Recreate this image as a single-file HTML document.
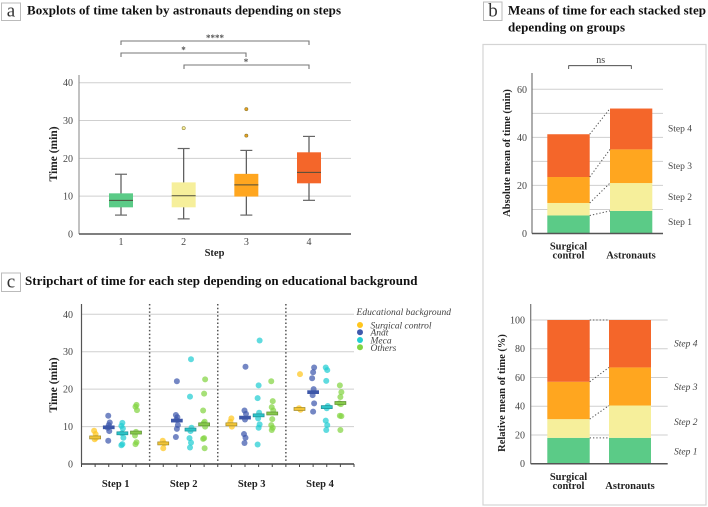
<!DOCTYPE html>
<html lang="en">
<head>
<meta charset="utf-8">
<title>Astronaut step timing figure</title>
<style>
html,body{margin:0;padding:0;background:#fff;}
svg{display:block;font-family:"Liberation Serif",serif;}
.title{font-weight:bold;font-size:13px;fill:#111;}
.tick{font-size:10px;fill:#444;}
.axt{font-weight:bold;font-size:11.5px;fill:#222;}
.axs{font-weight:bold;font-size:10.5px;fill:#222;}
.cat{font-weight:bold;font-size:10.5px;fill:#222;}
.lab{font-size:9.5px;fill:#444;}
.ital{font-style:italic;font-size:9.5px;fill:#444;}
.plab{font-size:19px;fill:#333;}
</style>
</head>
<body>
<svg id="fig" xmlns="http://www.w3.org/2000/svg" width="708" height="507" viewBox="0 0 708 507">
<rect x="0" y="0" width="708" height="507" fill="#fff"/>

<g>
<rect x="1.5" y="3" width="19" height="17.5" fill="#fff" stroke="#bbb"/>
<text class="plab" x="11" y="16.5" text-anchor="middle">a</text>
</g>
<text class="title" x="27" y="14.5" textLength="314" lengthAdjust="spacing">Boxplots of time taken by astronauts depending on steps</text>

<g>
<rect x="483.5" y="2" width="18.5" height="18.5" fill="#fff" stroke="#bbb"/>
<text class="plab" x="493" y="16.5" text-anchor="middle">b</text>
</g>
<text class="title" x="508" y="14.5" textLength="198" lengthAdjust="spacing">Means of time for each stacked step</text>
<text class="title" x="508" y="31.5" textLength="117" lengthAdjust="spacing">depending on groups</text>
<rect x="483" y="44.5" width="223" height="460.5" fill="#fff" stroke="#d4d4d4" stroke-width="1.2"/>

<g>
<rect x="1.5" y="273" width="19" height="18.5" fill="#fff" stroke="#bbb"/>
<text class="plab" x="11" y="287.5" text-anchor="middle">c</text>
</g>
<text class="title" x="25" y="285" textLength="392.5" lengthAdjust="spacing">Stripchart of time for each step depending on educational background</text>

<!-- significance brackets a -->
<g fill="none" stroke="#777" stroke-width="1.1">
<path d="M121 45V41H309V45"/>
<path d="M121 57V53H246V57"/>
<path d="M184 69V65H309V69"/>
</g>
<text x="215" y="41" text-anchor="middle" font-size="9" font-weight="bold" fill="#555">****</text>
<text x="183.5" y="53" text-anchor="middle" font-size="9" font-weight="bold" fill="#555">*</text>
<text x="246" y="65" text-anchor="middle" font-size="9" font-weight="bold" fill="#555">*</text>

<text class="axt" transform="translate(57 154) rotate(-90)" text-anchor="middle">Time (min)</text>
<text class="axs" x="214.5" y="256" text-anchor="middle">Step</text>

<text class="axt" transform="translate(57 385) rotate(-90)" text-anchor="middle">Time (min)</text>
<text class="cat" x="115.7" y="487" text-anchor="middle">Step 1</text>
<text class="cat" x="183.7" y="487" text-anchor="middle">Step 2</text>
<text class="cat" x="251.7" y="487" text-anchor="middle">Step 3</text>
<text class="cat" x="320" y="487" text-anchor="middle">Step 4</text>

<text class="ital" x="356.5" y="315" textLength="94.5" lengthAdjust="spacing">Educational background</text>
<g><circle cx="360" cy="325" r="3" fill="#ffc61e"/><text class="ital" x="370.5" y="328.5" textLength="61" lengthAdjust="spacing">Surgical control</text></g>
<g><circle cx="360" cy="332.3" r="3" fill="#3f59ad"/><text class="ital" x="370.5" y="335.5">Anat</text></g>
<g><circle cx="360" cy="340" r="3" fill="#22cdd2"/><text class="ital" x="370.5" y="343.5">Meca</text></g>
<g><circle cx="360" cy="347.3" r="3" fill="#83d443"/><text class="ital" x="370.5" y="351">Others</text></g>

<g fill="none" stroke="#333" stroke-width="0.8"><path d="M568.7 69V65.7H631.3V69"/></g>
<text x="600.7" y="63" text-anchor="middle" font-size="10" fill="#444">ns</text>
<text class="axs" transform="translate(510 153) rotate(-90)" text-anchor="middle">Absolute mean of time (min)</text>
<text class="axs" transform="translate(505 393) rotate(-90)" text-anchor="middle">Relative mean of time (%)</text>

<text class="cat" x="568.5" y="249.5" text-anchor="middle">Surgical</text>
<text class="cat" x="568.5" y="258.5" text-anchor="middle">control</text>
<text class="cat" x="631" y="258.5" text-anchor="middle">Astronauts</text>
<text class="cat" x="568.5" y="480" text-anchor="middle">Surgical</text>
<text class="cat" x="568.5" y="489" text-anchor="middle">control</text>
<text class="cat" x="630" y="489" text-anchor="middle">Astronauts</text>

<text class="lab" x="668" y="131.5">Step 4</text>
<text class="lab" x="668" y="169">Step 3</text>
<text class="lab" x="668" y="200">Step 2</text>
<text class="lab" x="668" y="225">Step 1</text>
<text class="ital" x="674" y="346.5">Step 4</text>
<text class="ital" x="674" y="390">Step 3</text>
<text class="ital" x="674" y="425">Step 2</text>
<text class="ital" x="674" y="454.5">Step 1</text>
</svg>

<script>
/* Panel a: boxplots */
const boxCategories = ['1', '2', '3', '4'];
const boxWhiskerLow = [5, 4, 5, 8.9];
const boxQ1 = [7.05, 7.05, 9.9, 13.4];
const boxMedian = [8.9, 10.1, 13, 16.3];
const boxQ3 = [10.75, 13.65, 15.9, 21.6];
const boxWhiskerHigh = [15.8, 22.6, 22.1, 25.8];
const boxOutliers = [[], [28], [26, 33], []];
const timeTicks = [0, 10, 20, 30, 40];

/* Panel c: stripchart, values by step then by group */
const stripSteps = ['Step 1', 'Step 2', 'Step 3', 'Step 4'];
const stripGroups = ['surgical-control', 'anat', 'meca', 'others'];
const stripStep1 = [
  [8.9, 8.0, 6.6, 7.0],
  [12.9, 11.1, 10.4, 9.7, 8.8, 6.2],
  [11, 10.2, 9.5, 8.2, 7, 5.3, 5],
  [15.8, 15.3, 14.4, 8.6, 7.6, 5.8, 5.3]
];
const stripStep2 = [
  [6.2, 5.5, 4.2],
  [22.1, 13.1, 12.5, 11.8, 10.4, 9.4, 7.2],
  [28, 18, 9.7, 8.8, 6.9, 5.7, 4.4],
  [22.6, 18.8, 14.3, 11.3, 10.9, 10, 6.9, 6.7, 4.2]
];
const stripStep3 = [
  [12.2, 11.3, 10],
  [26, 14.3, 13.4, 11.9, 8, 7, 5.6],
  [33, 21, 17.6, 13.7, 12.2, 10.6, 9.7, 5.2],
  [22.1, 16.8, 15.2, 14.3, 12, 10.4, 9.7, 9.1]
];
const stripStep4 = [
  [24, 14.9, 14.5],
  [25.8, 24.5, 22.9, 20, 18.4, 16.2, 14],
  [25.8, 25.1, 22.2, 15.5, 14.9, 11.6, 10.4, 9.1],
  [21, 19.2, 17.9, 16.2, 16, 12.9, 12.8, 9.1]
];
const stripValues = [stripStep1, stripStep2, stripStep3, stripStep4];
const stripMeans = [
  [7.1, 9.8, 8.2, 8.4],
  [5.5, 11.6, 9.2, 10.6],
  [10.6, 12.4, 13, 13.5],
  [14.7, 19.2, 15.2, 16.3]
];

/* Panel b: stacked means (Step 1 to Step 4) */
const absoluteSurgical = [7.5, 5.2, 10.8, 17.8];
const absoluteAstronauts = [9.4, 11.6, 14, 17];
const absoluteTicks = [0, 10, 20, 30, 40, 50, 60];
const absoluteLabels = [0, 20, 40, 60];
const relativeSurgical = [18, 13, 26, 43];
const relativeAstronauts = [18, 22.5, 26.5, 33];
const relativeTicks = [0, 20, 40, 60, 80, 100];

const stepColors = ['#5bcb87', '#f6ef9b', '#ffa61f', '#f4662a'];
const outlierColors = ['#5bcb87', '#f6ef9b', '#e8a020', '#f4662a'];
const groupColors = ['#ffc61e', '#3f59ad', '#22cdd2', '#83d443'];
const meanFill = ['#f2c436', '#3d57a8', '#2cc4c8', '#86c94a'];
const meanStroke = ['#a08a2a', '#3d57a8', '#1f8f96', '#5f8f35'];

const fig = document.getElementById('fig');
const NS = 'http://www.w3.org/2000/svg';
function mk(tag, attrs, parent) {
  const el = document.createElementNS(NS, tag);
  for (const k in attrs) el.setAttribute(k, attrs[k]);
  (parent || fig).appendChild(el);
  return el;
}
function scale(d0, d1, r0, r1) {
  return function (v) { return r0 + (v - d0) * (r1 - r0) / (d1 - d0); };
}

function drawYAxis(prefix, y, ticks, labels, x0, x1, top, labelX, axisColor) {
  ticks.forEach(function (t) {
    if (t === 0) return;
    const grid = mk('line', {x1: x0, x2: x1, y1: y(t), y2: y(t), stroke: '#cfcfcf', 'stroke-width': 1});
    
    
  });
  labels.forEach(function (t) {
    const lab = mk('text', {x: labelX, y: y(t) + 3.5, 'text-anchor': 'end', 'class': 'tick'});
    lab.textContent = t;
    
    
  });
  const ya = mk('line', {x1: x0, x2: x0, y1: top, y2: y(0), stroke: axisColor, 'stroke-width': 1.2});
  
  
}
function drawXBase(prefix, y, x0, x1, color) {
  const xa = mk('line', {x1: x0, x2: x1, y1: y(0), y2: y(0), stroke: color, 'stroke-width': 1.5});
  
  
}

/* ---- Panel a ---- */
(function () {
  const y = scale(0, 40, 234, 82.7);
  const x = scale(1, 4, 121, 309);
  drawYAxis('boxplot', y, timeTicks, timeTicks, 79, 351, 75, 73, '#999');
  boxCategories.forEach(function (c, i) {
    const cx = x(i + 1);
    const stem = mk('line', {x1: cx, x2: cx, y1: y(boxWhiskerLow[i]), y2: y(boxWhiskerHigh[i]), stroke: '#555', 'stroke-width': 1.2});
    
    
    [boxWhiskerLow[i], boxWhiskerHigh[i]].forEach(function (v) {
      const cap = mk('line', {x1: cx - 6, x2: cx + 6, y1: y(v), y2: y(v), stroke: '#666', 'stroke-width': 1.2});
      
      
    });
    const box = mk('rect', {x: cx - 12, width: 24, y: y(boxQ3[i]), height: y(boxQ1[i]) - y(boxQ3[i]), fill: stepColors[i]});
    
    
    const med = mk('line', {x1: cx - 12, x2: cx + 12, y1: y(boxMedian[i]), y2: y(boxMedian[i]), stroke: '#4d4d3a', 'stroke-width': 1});
    
    
    boxOutliers[i].forEach(function (v) {
      const o = mk('circle', {cx: cx, cy: y(v), r: 1.6, fill: outlierColors[i], stroke: '#8a7a30', 'stroke-width': 0.6});
      
      
    });
    const lab = mk('text', {x: cx, y: 245, 'text-anchor': 'middle', 'class': 'tick'});
    lab.textContent = c;
    
    
  });
  drawXBase('boxplot', y, 79, 351, '#555');
})();

/* ---- Panel c ---- */
(function () {
  const y = scale(0, 40, 464, 314.3);
  const stepX = scale(0, 4, 81.5, 354);
  const unit = (stepX(1) - stepX(0)) / 5;
  drawYAxis('stripchart', y, timeTicks, timeTicks, 81.5, 354, 304, 73, '#555');
  stripSteps.forEach(function (s, si) {
    if (si > 0) {
      const sep = mk('line', {x1: stepX(si), x2: stepX(si), y1: 304, y2: 462, stroke: '#555', 'stroke-width': 1.5, 'stroke-dasharray': '1.5 2.2'});
      
      
    }
    stripGroups.forEach(function (g, gi) {
      const cx = stepX(si) + (gi + 1) * unit;
      stripValues[si][gi].forEach(function (v, i) {
        const off = ((i * 3 + si + gi) % 5 - 2) * 0.5;
        const pt = mk('circle', {cx: cx + off, cy: y(v), r: 3, fill: groupColors[gi], 'fill-opacity': 0.72});
        
        
      });
      const mean = mk('rect', {x: cx - 5.5, width: 11, y: y(stripMeans[si][gi]) - 1.5, height: 3, fill: meanFill[gi], stroke: meanStroke[gi], 'stroke-width': 0.7});
      
      
    });
  });
  drawXBase('stripchart', y, 81.5, 354, '#444');
  for (let k = 0; k <= 20; k++) {
    const tx = stepX(0) + k * unit;
    const tk = mk('line', {x1: tx, x2: tx, y1: y(0), y2: y(0) + 3, stroke: '#444', 'stroke-width': 1});
    
    
  }
})();

/* ---- Panel b ---- */
function drawStack(prefix, y, surgical, astronauts, sx0, sx1, ax0, ax1) {
  let cumS = 0;
  let cumA = 0;
  const ends = [];
  surgical.forEach(function (v, i) {
    const r1 = mk('rect', {x: sx0, width: sx1 - sx0, y: y(cumS + v), height: y(cumS) - y(cumS + v), fill: stepColors[i]});
    
    
    const a = astronauts[i];
    const r2 = mk('rect', {x: ax0, width: ax1 - ax0, y: y(cumA + a), height: y(cumA) - y(cumA + a), fill: stepColors[i]});
    
    
    cumS += v;
    cumA += a;
    ends.push([cumS, cumA]);
  });
  ends.forEach(function (e, i) {
    const c = mk('line', {x1: sx1, x2: ax0, y1: y(e[0]), y2: y(e[1]), stroke: '#555', 'stroke-width': 1, 'stroke-dasharray': '1.3 2'});
    
    
  });
}
(function () {
  const y = scale(0, 60, 233.5, 89.3);
  drawYAxis('absolute', y, absoluteTicks, absoluteLabels, 532, 663, 73, 527, '#777');
  drawStack('absolute', y, absoluteSurgical, absoluteAstronauts, 547.3, 589.7, 610, 652.3);
  drawXBase('absolute', y, 532, 663, '#555');
})();
(function () {
  const y = scale(0, 100, 463.7, 320);
  drawYAxis('relative', y, relativeTicks, relativeTicks, 530.7, 667.7, 304, 525, '#777');
  drawStack('relative', y, relativeSurgical, relativeAstronauts, 547.3, 589.7, 609, 651);
  drawXBase('relative', y, 530.7, 667.7, '#555');
})();
</script>
</body>
</html>
